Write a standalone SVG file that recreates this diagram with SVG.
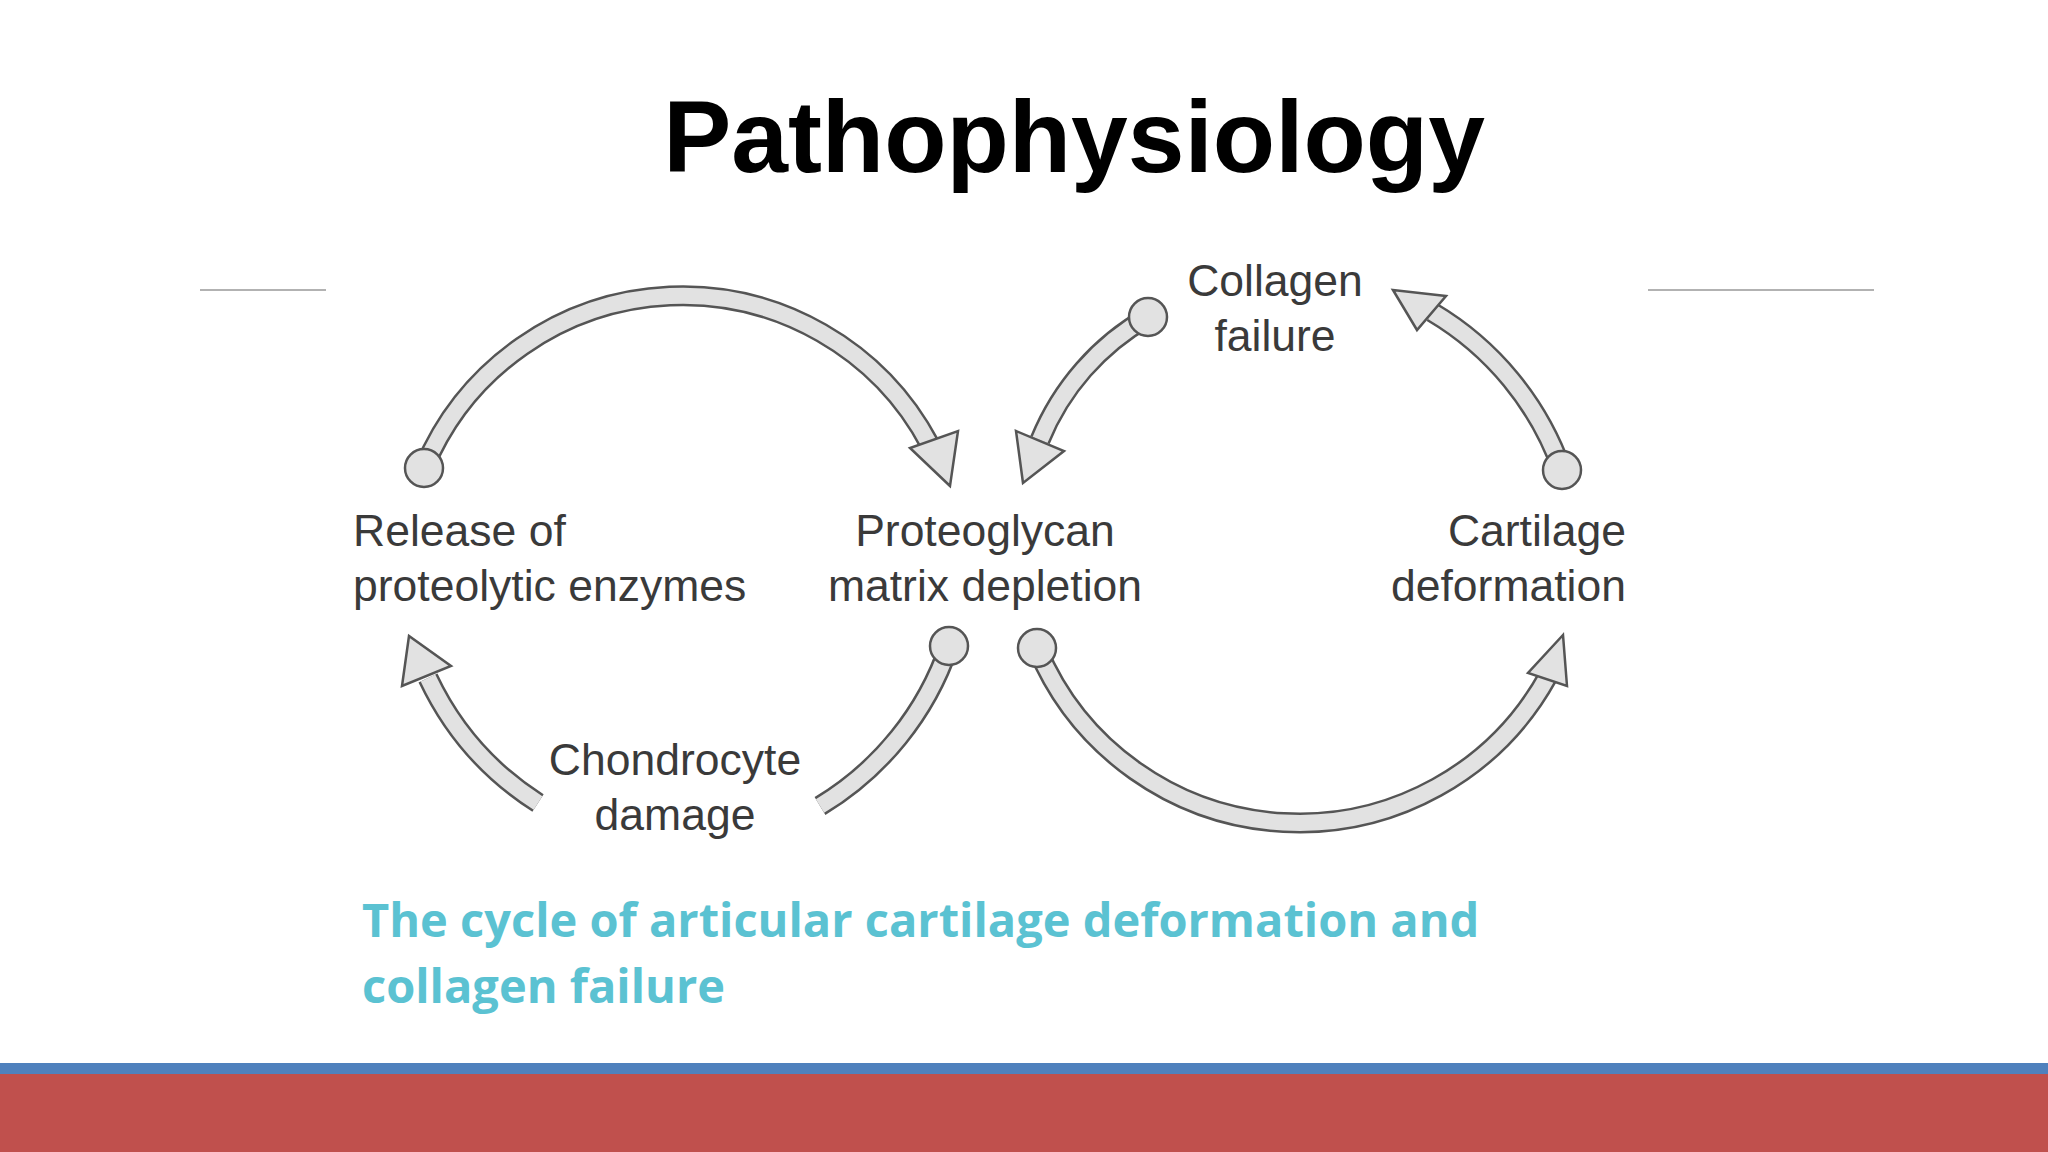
<svg xmlns="http://www.w3.org/2000/svg" width="2048" height="1152" viewBox="0 0 2048 1152">
<style>
.o{fill:none;stroke:#555;stroke-width:21}
.i{fill:none;stroke:#e2e2e2;stroke-width:16}
.h{fill:#e2e2e2;stroke:#555;stroke-width:2.5;stroke-linejoin:miter}
.c{fill:#e2e2e2;stroke:#555;stroke-width:2.5}
.t{font-family:"Liberation Sans",Arial,sans-serif;font-size:44.5px;fill:#3a3a3a}
.cap{font-family:"Open Sans","Liberation Sans",sans-serif;font-weight:bold;font-size:47px;fill:#5bc2d2}
</style>
<rect width="2048" height="1152" fill="#fff"/>
<text x="1074" y="172" text-anchor="middle" font-family="Liberation Sans,Arial,sans-serif" font-weight="bold" font-size="102" fill="#000">Pathophysiology</text>
<line x1="200" y1="290" x2="326" y2="290" stroke="#999" stroke-width="1.5"/>
<line x1="1648" y1="290" x2="1874" y2="290" stroke="#999" stroke-width="1.5"/>
<g id="connectors">
<path class="o" d="M424 468 A280 280 0 0 1 930 445"/><path class="i" d="M424 468 A280 280 0 0 1 930 445"/>
<path class="o" d="M1148 317 A250 250 0 0 0 1040 440"/><path class="i" d="M1148 317 A250 250 0 0 0 1040 440"/>
<path class="o" d="M1562 470 A300 300 0 0 0 1432 312"/><path class="i" d="M1562 470 A300 300 0 0 0 1432 312"/>
<path class="o" d="M1037 648 A284 284 0 0 0 1548 676"/><path class="i" d="M1037 648 A284 284 0 0 0 1548 676"/>
<path class="o" d="M949 646 A300 300 0 0 1 820 806"/><path class="i" d="M949 646 A300 300 0 0 1 820 806"/>
<path class="o" d="M538 803 A300 300 0 0 1 428 678"/><path class="i" d="M538 803 A300 300 0 0 1 428 678"/>
<polygon class="h" points="950,486 910,448 958,431"/>
<polygon class="h" points="1023,483 1016,431 1064,451"/>
<polygon class="h" points="1393,290 1417,330 1446,296"/>
<polygon class="h" points="1563,635 1528,673 1567,686"/>
<polygon class="h" points="409,636 402,686 451,666"/>
<circle class="c" cx="424" cy="468" r="19"/>
<circle class="c" cx="1148" cy="317" r="19"/>
<circle class="c" cx="1562" cy="470" r="19"/>
<circle class="c" cx="1037" cy="648" r="19"/>
<circle class="c" cx="949" cy="646" r="19"/>
</g>
<g id="release"><text class="t" x="353" y="546">Release of</text><text class="t" x="353" y="601">proteolytic enzymes</text></g>
<g id="proteoglycan"><text class="t" x="985" y="546" text-anchor="middle">Proteoglycan</text><text class="t" x="985" y="601" text-anchor="middle">matrix depletion</text></g>
<g id="cartilage"><text class="t" x="1626" y="546" text-anchor="end">Cartilage</text><text class="t" x="1626" y="601" text-anchor="end">deformation</text></g>
<g id="collagen"><text class="t" x="1275" y="296" text-anchor="middle">Collagen</text><text class="t" x="1275" y="351" text-anchor="middle">failure</text></g>
<g id="chondrocyte"><text class="t" x="675" y="775" text-anchor="middle">Chondrocyte</text><text class="t" x="675" y="830" text-anchor="middle">damage</text></g>
<text class="cap" x="362" y="937">The cycle of articular cartilage deformation and</text>
<text class="cap" x="362" y="1003">collagen failure</text>
<rect x="0" y="1063" width="2048" height="11" fill="#4f81bd"/>
<rect x="0" y="1074" width="2048" height="78" fill="#c0504d"/>
</svg>
